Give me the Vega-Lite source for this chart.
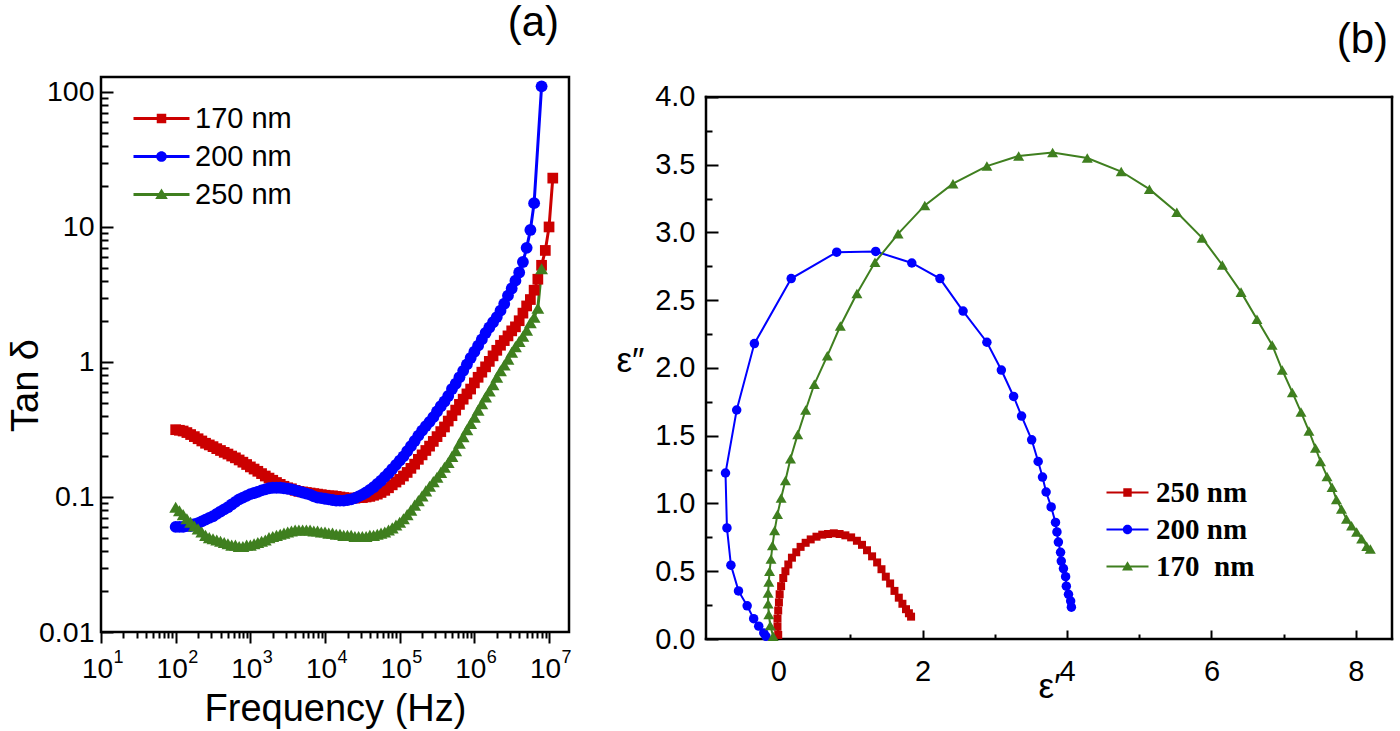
{
"$schema": "https://vega.github.io/schema/vega-lite/v6.json",
"background": "white",
"padding": {"left": 5, "top": 0, "right": 5, "bottom": 0},
"spacing": 43,
"resolve": {"scale": {"color": "independent", "shape": "independent"}, "legend": {"color": "independent", "shape": "independent"}},
"config": {
  "view": {"stroke": "black", "strokeWidth": 2.5},
  "axis": {"grid": false, "domain": false, "tickColor": "black", "tickWidth": 2, "labelColor": "black", "titleColor": "black", "labelFont": "Liberation Sans", "titleFont": "Liberation Sans", "titleFontWeight": "normal", "labelFlush": false, "labelOverlap": false, "labelBound": false},
  "title": {"font": "Liberation Sans", "fontWeight": "normal", "color": "black"}
},
"hconcat": [
{
  "width": 468, "height": 555,
  "title": {"text": "(a)", "anchor": "end", "frame": "group", "offset": 32, "dx": -10, "fontSize": 42},
  "data": {"values": [
{"s":"170 nm","f":100,"v":0.315},{"s":"170 nm","f":112.2,"v":0.312},{"s":"170 nm","f":125.9,"v":0.308},{"s":"170 nm","f":141.3,"v":0.3},{"s":"170 nm","f":158.5,"v":0.29},{"s":"170 nm","f":177.8,"v":0.28},{"s":"170 nm","f":199.5,"v":0.27},{"s":"170 nm","f":223.9,"v":0.26},{"s":"170 nm","f":251.2,"v":0.25},{"s":"170 nm","f":281.8,"v":0.243},{"s":"170 nm","f":316.2,"v":0.236},{"s":"170 nm","f":354.8,"v":0.228},{"s":"170 nm","f":398.1,"v":0.221},{"s":"170 nm","f":446.7,"v":0.214},{"s":"170 nm","f":501.2,"v":0.208},{"s":"170 nm","f":562.3,"v":0.201},{"s":"170 nm","f":631,"v":0.195},{"s":"170 nm","f":707.9,"v":0.188},{"s":"170 nm","f":794.3,"v":0.181},{"s":"170 nm","f":891.3,"v":0.174},
{"s":"170 nm","f":1000,"v":0.167},{"s":"170 nm","f":1122,"v":0.161},{"s":"170 nm","f":1259,"v":0.155},{"s":"170 nm","f":1413,"v":0.149},{"s":"170 nm","f":1585,"v":0.143},{"s":"170 nm","f":1778,"v":0.138},{"s":"170 nm","f":1995,"v":0.133},{"s":"170 nm","f":2239,"v":0.128},{"s":"170 nm","f":2512,"v":0.124},{"s":"170 nm","f":2818,"v":0.12},{"s":"170 nm","f":3162,"v":0.117},{"s":"170 nm","f":3548,"v":0.115},{"s":"170 nm","f":3981,"v":0.112},{"s":"170 nm","f":4467,"v":0.11},{"s":"170 nm","f":5012,"v":0.109},{"s":"170 nm","f":5623,"v":0.108},{"s":"170 nm","f":6310,"v":0.107},{"s":"170 nm","f":7079,"v":0.106},{"s":"170 nm","f":7943,"v":0.105},{"s":"170 nm","f":8913,"v":0.104},
{"s":"170 nm","f":10000,"v":0.103},{"s":"170 nm","f":11220,"v":0.102},{"s":"170 nm","f":12589,"v":0.102},{"s":"170 nm","f":14125,"v":0.101},{"s":"170 nm","f":15849,"v":0.1},{"s":"170 nm","f":17783,"v":0.099},{"s":"170 nm","f":19953,"v":0.098},{"s":"170 nm","f":22387,"v":0.098},{"s":"170 nm","f":25119,"v":0.098},{"s":"170 nm","f":28184,"v":0.099},{"s":"170 nm","f":31623,"v":0.099},{"s":"170 nm","f":35481,"v":0.1},{"s":"170 nm","f":39811,"v":0.101},{"s":"170 nm","f":44668,"v":0.103},{"s":"170 nm","f":50119,"v":0.105},{"s":"170 nm","f":56234,"v":0.108},{"s":"170 nm","f":63096,"v":0.112},{"s":"170 nm","f":70795,"v":0.117},{"s":"170 nm","f":79433,"v":0.123},{"s":"170 nm","f":89125,"v":0.129},
{"s":"170 nm","f":100000,"v":0.135},{"s":"170 nm","f":112202,"v":0.143},{"s":"170 nm","f":125893,"v":0.152},{"s":"170 nm","f":141254,"v":0.163},{"s":"170 nm","f":158489,"v":0.175},{"s":"170 nm","f":177828,"v":0.19},{"s":"170 nm","f":199526,"v":0.205},{"s":"170 nm","f":223872,"v":0.221},{"s":"170 nm","f":251189,"v":0.238},{"s":"170 nm","f":281838,"v":0.258},{"s":"170 nm","f":316228,"v":0.28},{"s":"170 nm","f":354813,"v":0.305},{"s":"170 nm","f":398107,"v":0.33},{"s":"170 nm","f":446684,"v":0.365},{"s":"170 nm","f":501187,"v":0.4},{"s":"170 nm","f":562341,"v":0.44},{"s":"170 nm","f":630957,"v":0.485},{"s":"170 nm","f":707946,"v":0.53},{"s":"170 nm","f":794328,"v":0.58},{"s":"170 nm","f":891251,"v":0.63},
{"s":"170 nm","f":1000000,"v":0.7},{"s":"170 nm","f":1122018,"v":0.77},{"s":"170 nm","f":1258925,"v":0.84},{"s":"170 nm","f":1412538,"v":0.92},{"s":"170 nm","f":1584893,"v":1.01},{"s":"170 nm","f":1778279,"v":1.11},{"s":"170 nm","f":1995262,"v":1.22},{"s":"170 nm","f":2238721,"v":1.33},{"s":"170 nm","f":2511886,"v":1.44},{"s":"170 nm","f":2818383,"v":1.56},{"s":"170 nm","f":3162278,"v":1.7},{"s":"170 nm","f":3548134,"v":1.82},{"s":"170 nm","f":3981072,"v":2.02},{"s":"170 nm","f":4466836,"v":2.3},{"s":"170 nm","f":5011872,"v":2.6},{"s":"170 nm","f":5623413,"v":2.9},{"s":"170 nm","f":6309573,"v":3.4},{"s":"170 nm","f":7079458,"v":4.1},{"s":"170 nm","f":7943282,"v":5.2},{"s":"170 nm","f":8912509,"v":6.7},{"s":"170 nm","f":10000000,"v":10},{"s":"170 nm","f":11220185,"v":23},
{"s":"200 nm","f":100,"v":0.06},{"s":"200 nm","f":112.2,"v":0.06},{"s":"200 nm","f":125.9,"v":0.06},{"s":"200 nm","f":141.3,"v":0.061},{"s":"200 nm","f":158.5,"v":0.061},{"s":"200 nm","f":177.8,"v":0.063},{"s":"200 nm","f":199.5,"v":0.064},{"s":"200 nm","f":223.9,"v":0.066},{"s":"200 nm","f":251.2,"v":0.068},{"s":"200 nm","f":281.8,"v":0.07},{"s":"200 nm","f":316.2,"v":0.072},{"s":"200 nm","f":354.8,"v":0.075},{"s":"200 nm","f":398.1,"v":0.078},{"s":"200 nm","f":446.7,"v":0.081},{"s":"200 nm","f":501.2,"v":0.084},{"s":"200 nm","f":562.3,"v":0.088},{"s":"200 nm","f":631,"v":0.092},{"s":"200 nm","f":707.9,"v":0.096},{"s":"200 nm","f":794.3,"v":0.099},{"s":"200 nm","f":891.3,"v":0.102},
{"s":"200 nm","f":1000,"v":0.105},{"s":"200 nm","f":1122,"v":0.107},{"s":"200 nm","f":1259,"v":0.109},{"s":"200 nm","f":1413,"v":0.112},{"s":"200 nm","f":1585,"v":0.114},{"s":"200 nm","f":1778,"v":0.116},{"s":"200 nm","f":1995,"v":0.117},{"s":"200 nm","f":2239,"v":0.117},{"s":"200 nm","f":2512,"v":0.117},{"s":"200 nm","f":2818,"v":0.116},{"s":"200 nm","f":3162,"v":0.115},{"s":"200 nm","f":3548,"v":0.114},{"s":"200 nm","f":3981,"v":0.112},{"s":"200 nm","f":4467,"v":0.11},{"s":"200 nm","f":5012,"v":0.108},{"s":"200 nm","f":5623,"v":0.106},{"s":"200 nm","f":6310,"v":0.104},{"s":"200 nm","f":7079,"v":0.101},{"s":"200 nm","f":7943,"v":0.099},{"s":"200 nm","f":8913,"v":0.098},
{"s":"200 nm","f":10000,"v":0.097},{"s":"200 nm","f":11220,"v":0.096},{"s":"200 nm","f":12589,"v":0.095},{"s":"200 nm","f":14125,"v":0.094},{"s":"200 nm","f":15849,"v":0.094},{"s":"200 nm","f":17783,"v":0.094},{"s":"200 nm","f":19953,"v":0.095},{"s":"200 nm","f":22387,"v":0.096},{"s":"200 nm","f":25119,"v":0.098},{"s":"200 nm","f":28184,"v":0.101},{"s":"200 nm","f":31623,"v":0.104},{"s":"200 nm","f":35481,"v":0.108},{"s":"200 nm","f":39811,"v":0.113},{"s":"200 nm","f":44668,"v":0.118},{"s":"200 nm","f":50119,"v":0.125},{"s":"200 nm","f":56234,"v":0.132},{"s":"200 nm","f":63096,"v":0.141},{"s":"200 nm","f":70795,"v":0.15},{"s":"200 nm","f":79433,"v":0.161},{"s":"200 nm","f":89125,"v":0.173},
{"s":"200 nm","f":100000,"v":0.186},{"s":"200 nm","f":112202,"v":0.2},{"s":"200 nm","f":125893,"v":0.218},{"s":"200 nm","f":141254,"v":0.238},{"s":"200 nm","f":158489,"v":0.26},{"s":"200 nm","f":177828,"v":0.285},{"s":"200 nm","f":199526,"v":0.31},{"s":"200 nm","f":223872,"v":0.335},{"s":"200 nm","f":251189,"v":0.36},{"s":"200 nm","f":281838,"v":0.39},{"s":"200 nm","f":316228,"v":0.43},{"s":"200 nm","f":354813,"v":0.47},{"s":"200 nm","f":398107,"v":0.51},{"s":"200 nm","f":446684,"v":0.56},{"s":"200 nm","f":501187,"v":0.63},{"s":"200 nm","f":562341,"v":0.69},{"s":"200 nm","f":630957,"v":0.77},{"s":"200 nm","f":707946,"v":0.86},{"s":"200 nm","f":794328,"v":0.96},{"s":"200 nm","f":891251,"v":1.07},
{"s":"200 nm","f":1000000,"v":1.19},{"s":"200 nm","f":1122018,"v":1.32},{"s":"200 nm","f":1258925,"v":1.47},{"s":"200 nm","f":1412538,"v":1.64},{"s":"200 nm","f":1584893,"v":1.8},{"s":"200 nm","f":1778279,"v":1.97},{"s":"200 nm","f":1995262,"v":2.15},{"s":"200 nm","f":2238721,"v":2.4},{"s":"200 nm","f":2511886,"v":2.7},{"s":"200 nm","f":2818383,"v":3.1},{"s":"200 nm","f":3162278,"v":3.5},{"s":"200 nm","f":3548134,"v":4},{"s":"200 nm","f":3981072,"v":4.6},{"s":"200 nm","f":4466836,"v":5.5},{"s":"200 nm","f":5011872,"v":7},{"s":"200 nm","f":5623413,"v":9.5},{"s":"200 nm","f":6309573,"v":15},{"s":"200 nm","f":7943282,"v":110},
{"s":"250 nm","f":100,"v":0.084},{"s":"250 nm","f":112.2,"v":0.079},{"s":"250 nm","f":125.9,"v":0.074},{"s":"250 nm","f":141.3,"v":0.069},{"s":"250 nm","f":158.5,"v":0.065},{"s":"250 nm","f":177.8,"v":0.061},{"s":"250 nm","f":199.5,"v":0.058},{"s":"250 nm","f":223.9,"v":0.055},{"s":"250 nm","f":251.2,"v":0.052},{"s":"250 nm","f":281.8,"v":0.05},{"s":"250 nm","f":316.2,"v":0.049},{"s":"250 nm","f":354.8,"v":0.048},{"s":"250 nm","f":398.1,"v":0.047},{"s":"250 nm","f":446.7,"v":0.046},{"s":"250 nm","f":501.2,"v":0.045},{"s":"250 nm","f":562.3,"v":0.044},{"s":"250 nm","f":631,"v":0.044},{"s":"250 nm","f":707.9,"v":0.043},{"s":"250 nm","f":794.3,"v":0.043},{"s":"250 nm","f":891.3,"v":0.044},
{"s":"250 nm","f":1000,"v":0.044},{"s":"250 nm","f":1122,"v":0.045},{"s":"250 nm","f":1259,"v":0.046},{"s":"250 nm","f":1413,"v":0.047},{"s":"250 nm","f":1585,"v":0.048},{"s":"250 nm","f":1778,"v":0.05},{"s":"250 nm","f":1995,"v":0.051},{"s":"250 nm","f":2239,"v":0.052},{"s":"250 nm","f":2512,"v":0.053},{"s":"250 nm","f":2818,"v":0.054},{"s":"250 nm","f":3162,"v":0.055},{"s":"250 nm","f":3548,"v":0.056},{"s":"250 nm","f":3981,"v":0.057},{"s":"250 nm","f":4467,"v":0.057},{"s":"250 nm","f":5012,"v":0.057},{"s":"250 nm","f":5623,"v":0.057},{"s":"250 nm","f":6310,"v":0.057},{"s":"250 nm","f":7079,"v":0.056},{"s":"250 nm","f":7943,"v":0.056},{"s":"250 nm","f":8913,"v":0.055},
{"s":"250 nm","f":10000,"v":0.055},{"s":"250 nm","f":11220,"v":0.054},{"s":"250 nm","f":12589,"v":0.054},{"s":"250 nm","f":14125,"v":0.053},{"s":"250 nm","f":15849,"v":0.053},{"s":"250 nm","f":17783,"v":0.052},{"s":"250 nm","f":19953,"v":0.052},{"s":"250 nm","f":22387,"v":0.052},{"s":"250 nm","f":25119,"v":0.051},{"s":"250 nm","f":28184,"v":0.051},{"s":"250 nm","f":31623,"v":0.051},{"s":"250 nm","f":35481,"v":0.051},{"s":"250 nm","f":39811,"v":0.052},{"s":"250 nm","f":44668,"v":0.052},{"s":"250 nm","f":50119,"v":0.053},{"s":"250 nm","f":56234,"v":0.054},{"s":"250 nm","f":63096,"v":0.055},{"s":"250 nm","f":70795,"v":0.057},{"s":"250 nm","f":79433,"v":0.059},{"s":"250 nm","f":89125,"v":0.062},
{"s":"250 nm","f":100000,"v":0.065},{"s":"250 nm","f":112202,"v":0.069},{"s":"250 nm","f":125893,"v":0.074},{"s":"250 nm","f":141254,"v":0.08},{"s":"250 nm","f":158489,"v":0.087},{"s":"250 nm","f":177828,"v":0.094},{"s":"250 nm","f":199526,"v":0.102},{"s":"250 nm","f":223872,"v":0.111},{"s":"250 nm","f":251189,"v":0.12},{"s":"250 nm","f":281838,"v":0.13},{"s":"250 nm","f":316228,"v":0.14},{"s":"250 nm","f":354813,"v":0.152},{"s":"250 nm","f":398107,"v":0.166},{"s":"250 nm","f":446684,"v":0.18},{"s":"250 nm","f":501187,"v":0.2},{"s":"250 nm","f":562341,"v":0.22},{"s":"250 nm","f":630957,"v":0.25},{"s":"250 nm","f":707946,"v":0.28},{"s":"250 nm","f":794328,"v":0.315},{"s":"250 nm","f":891251,"v":0.35},
{"s":"250 nm","f":1000000,"v":0.39},{"s":"250 nm","f":1122018,"v":0.44},{"s":"250 nm","f":1258925,"v":0.49},{"s":"250 nm","f":1412538,"v":0.55},{"s":"250 nm","f":1584893,"v":0.61},{"s":"250 nm","f":1778279,"v":0.68},{"s":"250 nm","f":1995262,"v":0.77},{"s":"250 nm","f":2238721,"v":0.86},{"s":"250 nm","f":2511886,"v":0.95},{"s":"250 nm","f":2818383,"v":1.05},{"s":"250 nm","f":3162278,"v":1.18},{"s":"250 nm","f":3548134,"v":1.3},{"s":"250 nm","f":3981072,"v":1.42},{"s":"250 nm","f":4466836,"v":1.55},{"s":"250 nm","f":5011872,"v":1.72},{"s":"250 nm","f":5623413,"v":1.95},{"s":"250 nm","f":6309573,"v":2.15},{"s":"250 nm","f":7079458,"v":2.5},{"s":"250 nm","f":7943282,"v":4.9}
  ]},
  "resolve": {"axis": {"x": "independent", "y": "independent"}},
  "layer": [
    {
      "mark": {"type": "point", "opacity": 0, "filled": true},
      "encoding": {
        "x": {"field": "f", "type": "quantitative", "scale": {"type": "log", "domain": [10, 18500000], "nice": false},
              "axis": {"orient": "bottom", "values": [10, 100, 1000, 10000, 100000, 1000000, 10000000], "labelExpr": "'' + round(log(datum.value) / LN10)", "ticks": false, "tickSize": 0, "labelFontSize": 18, "labelPadding": 16, "labelOffset": 17, "title": null}},
        "y": {"field": "v", "type": "quantitative", "scale": {"type": "log", "domain": [0.01, 129], "nice": false}, "axis": null},
        "color": {"field": "s", "type": "nominal", "scale": {"domain": ["170 nm", "200 nm", "250 nm"], "range": ["#cc0000", "#0000ff", "#3f7f1f"]},
                  "legend": {"orient": "none", "legendX": 46, "legendY": 27, "title": null, "labelFont": "Liberation Sans", "labelFontSize": 29, "labelColor": "black", "symbolSize": 784, "symbolOpacity": 1, "labelOffset": 19, "rowPadding": 8, "symbolStrokeWidth": 0}},
        "shape": {"field": "s", "type": "nominal", "scale": {"domain": ["170 nm", "200 nm", "250 nm"], "range": ["M-2,-0.11H2V0.11H-2Z M-0.34,-0.34H0.34V0.34H-0.34Z", "M-2,-0.11H2V0.11H-2Z M-0.38,0A0.38,0.38 0 1,1 0.38,0A0.38,0.38 0 1,1 -0.38,0Z", "M-2,-0.11H2V0.11H-2Z M0,-0.42L0.45,0.32H-0.45Z"]},
                  "legend": {"orient": "none", "legendX": 46, "legendY": 27, "title": null, "labelFont": "Liberation Sans", "labelFontSize": 29, "labelColor": "black", "symbolSize": 784, "symbolOpacity": 1, "labelOffset": 19, "rowPadding": 8, "symbolStrokeWidth": 0}}
      }
    },
    {
      "mark": {"type": "line", "strokeWidth": 3},
      "encoding": {
        "x": {"field": "f", "type": "quantitative", "scale": {"type": "log", "domain": [10, 18500000], "nice": false},
              "axis": {"orient": "bottom", "values": [10, 100, 1000, 10000, 100000, 1000000, 10000000], "labelExpr": "'10'", "tickSize": 11, "labelFontSize": 28, "labelPadding": 12, "labelOffset": -4, "title": "Frequency (Hz)", "titleFontSize": 38, "titleY": 88, "titleBaseline": "alphabetic"}},
        "y": {"field": "v", "type": "quantitative", "scale": {"type": "log", "domain": [0.01, 129], "nice": false},
              "axis": {"orient": "left", "values": [0.01, 0.1, 1, 10, 100], "format": "~g", "tickSize": -12, "labelFontSize": 28.5, "labelPadding": 19, "title": "Tan δ", "titleFontSize": 38, "titleX": -64, "titleY": 308, "titleBaseline": "alphabetic", "titleAlign": "center"}},
        "color": {"field": "s", "type": "nominal", "scale": {"domain": ["170 nm", "200 nm", "250 nm"], "range": ["#cc0000", "#0000ff", "#3f7f1f"]}}
      }
    },
    {
      "transform": [{"filter": "datum.s === '170 nm'"}],
      "mark": {"type": "point", "shape": "square", "filled": true, "opacity": 1, "strokeWidth": 0, "size": 115},
      "encoding": {
        "x": {"field": "f", "type": "quantitative", "scale": {"type": "log", "domain": [10, 18500000], "nice": false},
              "axis": {"orient": "bottom", "values": [20,30,40,50,60,70,80,90,200,300,400,500,600,700,800,900,2000,3000,4000,5000,6000,7000,8000,9000,20000,30000,40000,50000,60000,70000,80000,90000,200000,300000,400000,500000,600000,700000,800000,900000,2000000,3000000,4000000,5000000,6000000,7000000,8000000,9000000], "labels": false, "tickSize": 6, "title": null}},
        "y": {"field": "v", "type": "quantitative", "scale": {"type": "log", "domain": [0.01, 129], "nice": false},
              "axis": {"orient": "left", "values": [0.02,0.03,0.04,0.05,0.06,0.07,0.08,0.09,0.2,0.3,0.4,0.5,0.6,0.7,0.8,0.9,2,3,4,5,6,7,8,9,20,30,40,50,60,70,80,90], "labels": false, "tickSize": -7, "title": null}},
        "color": {"field": "s", "type": "nominal", "scale": {"domain": ["170 nm", "200 nm", "250 nm"], "range": ["#cc0000", "#0000ff", "#3f7f1f"]}}
      }
    },
    {
      "transform": [{"filter": "datum.s === '200 nm'"}],
      "mark": {"type": "point", "shape": "circle", "filled": true, "opacity": 1, "strokeWidth": 0, "size": 140},
      "encoding": {
        "x": {"field": "f", "type": "quantitative", "scale": {"type": "log", "domain": [10, 18500000], "nice": false}, "axis": null},
        "y": {"field": "v", "type": "quantitative", "scale": {"type": "log", "domain": [0.01, 129], "nice": false}, "axis": null},
        "color": {"field": "s", "type": "nominal", "scale": {"domain": ["170 nm", "200 nm", "250 nm"], "range": ["#cc0000", "#0000ff", "#3f7f1f"]}}
      }
    },
    {
      "transform": [{"filter": "datum.s === '250 nm'"}],
      "mark": {"type": "point", "shape": "triangle-up", "filled": true, "opacity": 1, "strokeWidth": 0, "size": 165},
      "encoding": {
        "x": {"field": "f", "type": "quantitative", "scale": {"type": "log", "domain": [10, 18500000], "nice": false}, "axis": null},
        "y": {"field": "v", "type": "quantitative", "scale": {"type": "log", "domain": [0.01, 129], "nice": false}, "axis": null},
        "color": {"field": "s", "type": "nominal", "scale": {"domain": ["170 nm", "200 nm", "250 nm"], "range": ["#cc0000", "#0000ff", "#3f7f1f"]}}
      }
    }
  ]
},
{
  "width": 686, "height": 562,
  "view": {"stroke": null},
  "title": {"text": "(b)", "anchor": "end", "frame": "group", "offset": 15, "dx": -4, "fontSize": 42},
  "data": {"values": [
{"s":"250 nm","i":0,"e1":0.0,"e2":0.03},{"s":"250 nm","i":1,"e1":-0.01,"e2":0.09},{"s":"250 nm","i":2,"e1":-0.01,"e2":0.15},{"s":"250 nm","i":3,"e1":0.0,"e2":0.21},{"s":"250 nm","i":4,"e1":0.01,"e2":0.27},{"s":"250 nm","i":5,"e1":0.02,"e2":0.33},{"s":"250 nm","i":6,"e1":0.04,"e2":0.39},{"s":"250 nm","i":7,"e1":0.07,"e2":0.45},{"s":"250 nm","i":8,"e1":0.1,"e2":0.5},{"s":"250 nm","i":9,"e1":0.14,"e2":0.55},{"s":"250 nm","i":10,"e1":0.19,"e2":0.6},{"s":"250 nm","i":11,"e1":0.25,"e2":0.64},{"s":"250 nm","i":12,"e1":0.31,"e2":0.68},{"s":"250 nm","i":13,"e1":0.38,"e2":0.71},{"s":"250 nm","i":14,"e1":0.45,"e2":0.735},{"s":"250 nm","i":15,"e1":0.53,"e2":0.755},{"s":"250 nm","i":16,"e1":0.61,"e2":0.77},{"s":"250 nm","i":17,"e1":0.69,"e2":0.775},{"s":"250 nm","i":18,"e1":0.77,"e2":0.78},{"s":"250 nm","i":19,"e1":0.85,"e2":0.775},{"s":"250 nm","i":20,"e1":0.93,"e2":0.765},{"s":"250 nm","i":21,"e1":1.01,"e2":0.75},{"s":"250 nm","i":22,"e1":1.09,"e2":0.725},{"s":"250 nm","i":23,"e1":1.16,"e2":0.695},{"s":"250 nm","i":24,"e1":1.23,"e2":0.655},{"s":"250 nm","i":25,"e1":1.3,"e2":0.61},{"s":"250 nm","i":26,"e1":1.37,"e2":0.565},{"s":"250 nm","i":27,"e1":1.43,"e2":0.515},{"s":"250 nm","i":28,"e1":1.49,"e2":0.46},{"s":"250 nm","i":29,"e1":1.55,"e2":0.41},{"s":"250 nm","i":30,"e1":1.61,"e2":0.355},{"s":"250 nm","i":31,"e1":1.67,"e2":0.305},{"s":"250 nm","i":32,"e1":1.72,"e2":0.26},{"s":"250 nm","i":33,"e1":1.77,"e2":0.22},{"s":"250 nm","i":34,"e1":1.81,"e2":0.19},{"s":"250 nm","i":35,"e1":1.84,"e2":0.165},
{"s":"200 nm","i":0,"e1":-0.17,"e2":0.02},{"s":"200 nm","i":1,"e1":-0.2,"e2":0.045},{"s":"200 nm","i":2,"e1":-0.27,"e2":0.095},{"s":"200 nm","i":3,"e1":-0.34,"e2":0.15},{"s":"200 nm","i":4,"e1":-0.43,"e2":0.245},{"s":"200 nm","i":5,"e1":-0.55,"e2":0.355},{"s":"200 nm","i":6,"e1":-0.655,"e2":0.545},{"s":"200 nm","i":7,"e1":-0.71,"e2":0.82},{"s":"200 nm","i":8,"e1":-0.73,"e2":1.225},{"s":"200 nm","i":9,"e1":-0.575,"e2":1.69},{"s":"200 nm","i":10,"e1":-0.33,"e2":2.18},{"s":"200 nm","i":11,"e1":0.18,"e2":2.66},{"s":"200 nm","i":12,"e1":0.81,"e2":2.855},{"s":"200 nm","i":13,"e1":1.35,"e2":2.86},{"s":"200 nm","i":14,"e1":1.85,"e2":2.775},{"s":"200 nm","i":15,"e1":2.24,"e2":2.66},{"s":"200 nm","i":16,"e1":2.56,"e2":2.42},{"s":"200 nm","i":17,"e1":2.89,"e2":2.19},{"s":"200 nm","i":18,"e1":3.09,"e2":1.985},{"s":"200 nm","i":19,"e1":3.26,"e2":1.79},{"s":"200 nm","i":20,"e1":3.37,"e2":1.645},{"s":"200 nm","i":21,"e1":3.51,"e2":1.47},{"s":"200 nm","i":22,"e1":3.6,"e2":1.31},{"s":"200 nm","i":23,"e1":3.66,"e2":1.195},{"s":"200 nm","i":24,"e1":3.71,"e2":1.085},{"s":"200 nm","i":25,"e1":3.78,"e2":0.975},{"s":"200 nm","i":26,"e1":3.84,"e2":0.86},{"s":"200 nm","i":27,"e1":3.86,"e2":0.79},{"s":"200 nm","i":28,"e1":3.88,"e2":0.715},{"s":"200 nm","i":29,"e1":3.91,"e2":0.64},{"s":"200 nm","i":30,"e1":3.92,"e2":0.575},{"s":"200 nm","i":31,"e1":3.95,"e2":0.52},{"s":"200 nm","i":32,"e1":3.98,"e2":0.46},{"s":"200 nm","i":33,"e1":3.99,"e2":0.39},{"s":"200 nm","i":34,"e1":4.02,"e2":0.33},{"s":"200 nm","i":35,"e1":4.05,"e2":0.28},{"s":"200 nm","i":36,"e1":4.06,"e2":0.235},
{"s":"170  nm","i":0,"e1":-0.07,"e2":0.02},{"s":"170  nm","i":1,"e1":-0.11,"e2":0.1},{"s":"170  nm","i":2,"e1":-0.13,"e2":0.18},{"s":"170  nm","i":3,"e1":-0.14,"e2":0.26},{"s":"170  nm","i":4,"e1":-0.14,"e2":0.34},{"s":"170  nm","i":5,"e1":-0.13,"e2":0.42},{"s":"170  nm","i":6,"e1":-0.12,"e2":0.5},{"s":"170  nm","i":7,"e1":-0.1,"e2":0.59},{"s":"170  nm","i":8,"e1":-0.08,"e2":0.69},{"s":"170  nm","i":9,"e1":-0.05,"e2":0.8},{"s":"170  nm","i":10,"e1":-0.01,"e2":0.92},{"s":"170  nm","i":11,"e1":0.04,"e2":1.04},{"s":"170  nm","i":12,"e1":0.1,"e2":1.17},{"s":"170  nm","i":13,"e1":0.17,"e2":1.33},{"s":"170  nm","i":14,"e1":0.27,"e2":1.51},{"s":"170  nm","i":15,"e1":0.38,"e2":1.69},{"s":"170  nm","i":16,"e1":0.5,"e2":1.88},{"s":"170  nm","i":17,"e1":0.68,"e2":2.09},{"s":"170  nm","i":18,"e1":0.86,"e2":2.31},{"s":"170  nm","i":19,"e1":1.09,"e2":2.55},{"s":"170  nm","i":20,"e1":1.34,"e2":2.78},{"s":"170  nm","i":21,"e1":1.66,"e2":2.99},{"s":"170  nm","i":22,"e1":2.03,"e2":3.2},{"s":"170  nm","i":23,"e1":2.42,"e2":3.36},{"s":"170  nm","i":24,"e1":2.89,"e2":3.49},{"s":"170  nm","i":25,"e1":3.33,"e2":3.565},{"s":"170  nm","i":26,"e1":3.8,"e2":3.59},{"s":"170  nm","i":27,"e1":4.28,"e2":3.55},{"s":"170  nm","i":28,"e1":4.75,"e2":3.45},{"s":"170  nm","i":29,"e1":5.14,"e2":3.32},{"s":"170  nm","i":30,"e1":5.52,"e2":3.15},{"s":"170  nm","i":31,"e1":5.87,"e2":2.96},{"s":"170  nm","i":32,"e1":6.15,"e2":2.76},{"s":"170  nm","i":33,"e1":6.41,"e2":2.56},{"s":"170  nm","i":34,"e1":6.63,"e2":2.36},{"s":"170  nm","i":35,"e1":6.84,"e2":2.17},{"s":"170  nm","i":36,"e1":6.98,"e2":1.985},{"s":"170  nm","i":37,"e1":7.12,"e2":1.82},{"s":"170  nm","i":38,"e1":7.24,"e2":1.675},{"s":"170  nm","i":39,"e1":7.35,"e2":1.535},{"s":"170  nm","i":40,"e1":7.44,"e2":1.41},{"s":"170  nm","i":41,"e1":7.51,"e2":1.31},{"s":"170  nm","i":42,"e1":7.6,"e2":1.2},{"s":"170  nm","i":43,"e1":7.67,"e2":1.12},{"s":"170  nm","i":44,"e1":7.73,"e2":1.03},{"s":"170  nm","i":45,"e1":7.8,"e2":0.96},{"s":"170  nm","i":46,"e1":7.87,"e2":0.885},{"s":"170  nm","i":47,"e1":7.94,"e2":0.835},{"s":"170  nm","i":48,"e1":8.01,"e2":0.79},{"s":"170  nm","i":49,"e1":8.08,"e2":0.74},{"s":"170  nm","i":50,"e1":8.15,"e2":0.685},{"s":"170  nm","i":51,"e1":8.2,"e2":0.665}
  ]},
  "resolve": {"axis": {"x": "independent", "y": "independent"}},
  "layer": [
    {
      "mark": {"type": "point", "opacity": 0, "filled": true},
      "encoding": {
        "x": {"field": "e1", "type": "quantitative", "scale": {"domain": [-1, 8.5], "nice": false, "zero": false}, "axis": null},
        "y": {"field": "e2", "type": "quantitative", "scale": {"domain": [0, 4.1476], "nice": false}, "axis": null},
        "color": {"field": "s", "type": "nominal", "scale": {"domain": ["250 nm", "200 nm", "170  nm"], "range": ["#c00000", "#0000ff", "#3f7f1f"]},
                  "legend": {"orient": "none", "legendX": 407, "legendY": 401, "title": null, "labelFont": "Liberation Serif", "labelFontWeight": "bold", "labelFontSize": 29, "labelColor": "black", "symbolSize": 441, "symbolOpacity": 1, "labelOffset": 14, "rowPadding": 7, "symbolStrokeWidth": 0, "labelExpr": "datum.label == '170  nm' ? '170\u00a0\u00a0nm' : datum.label"}},
        "shape": {"field": "s", "type": "nominal", "scale": {"domain": ["250 nm", "200 nm", "170  nm"], "range": ["M-2,-0.1H2V0.1H-2Z M-0.4,-0.4H0.4V0.4H-0.4Z", "M-2,-0.1H2V0.1H-2Z M-0.45,0A0.45,0.45 0 1,1 0.45,0A0.45,0.45 0 1,1 -0.45,0Z", "M-2,-0.1H2V0.1H-2Z M0,-0.5L0.52,0.38H-0.52Z"]},
                  "legend": {"orient": "none", "legendX": 407, "legendY": 401, "title": null, "labelFont": "Liberation Serif", "labelFontWeight": "bold", "labelFontSize": 29, "labelColor": "black", "symbolSize": 441, "symbolOpacity": 1, "labelOffset": 14, "rowPadding": 7, "symbolStrokeWidth": 0, "labelExpr": "datum.label == '170  nm' ? '170\u00a0\u00a0nm' : datum.label"}}
      }
    },
    {
      "data": {"values": [{}]},
      "mark": {"type": "rule", "color": "black", "strokeWidth": 2.5, "strokeCap": "square"},
      "encoding": {
        "x": {"datum": -1, "type": "quantitative", "scale": {"domain": [-1, 8.5], "nice": false, "zero": false}, "axis": null},
        "x2": {"datum": 8.5},
        "y": {"datum": 4, "type": "quantitative", "scale": {"domain": [0, 4.1476], "nice": false}, "axis": null}
      }
    },
    {
      "data": {"values": [{}]},
      "mark": {"type": "rule", "color": "black", "strokeWidth": 2.5, "strokeCap": "square"},
      "encoding": {
        "x": {"datum": -1, "type": "quantitative", "scale": {"domain": [-1, 8.5], "nice": false, "zero": false}, "axis": null},
        "x2": {"datum": 8.5},
        "y": {"datum": 0, "type": "quantitative", "scale": {"domain": [0, 4.1476], "nice": false}, "axis": null}
      }
    },
    {
      "data": {"values": [{}]},
      "mark": {"type": "rule", "color": "black", "strokeWidth": 2.5, "strokeCap": "square"},
      "encoding": {
        "x": {"datum": -1, "type": "quantitative", "scale": {"domain": [-1, 8.5], "nice": false, "zero": false}, "axis": null},
        "y": {"datum": 0, "type": "quantitative", "scale": {"domain": [0, 4.1476], "nice": false}, "axis": null},
        "y2": {"datum": 4}
      }
    },
    {
      "data": {"values": [{}]},
      "mark": {"type": "rule", "color": "black", "strokeWidth": 2.5, "strokeCap": "square"},
      "encoding": {
        "x": {"datum": 8.5, "type": "quantitative", "scale": {"domain": [-1, 8.5], "nice": false, "zero": false}, "axis": null},
        "y": {"datum": 0, "type": "quantitative", "scale": {"domain": [0, 4.1476], "nice": false}, "axis": null},
        "y2": {"datum": 4}
      }
    },
    {
      "mark": {"type": "line", "strokeWidth": 2},
      "encoding": {
        "x": {"field": "e1", "type": "quantitative", "scale": {"domain": [-1, 8.5], "nice": false, "zero": false},
              "axis": {"orient": "bottom", "values": [0, 2, 4, 6, 8], "format": "d", "tickSize": -9, "labelFontSize": 29, "labelPadding": 27, "title": "ε′", "titleFontSize": 35, "titleY": 58, "titleBaseline": "alphabetic"}},
        "y": {"field": "e2", "type": "quantitative", "scale": {"domain": [0, 4.1476], "nice": false},
              "axis": {"orient": "left", "values": [0, 0.5, 1, 1.5, 2, 2.5, 3, 3.5, 4], "format": ".1f", "tickSize": -12, "labelFontSize": 29, "labelPadding": 23, "title": "ε″", "titleFontSize": 35, "titleAngle": 0, "titleAlign": "left", "titleBaseline": "alphabetic", "titleX": -90, "titleY": 294}},
        "color": {"field": "s", "type": "nominal", "scale": {"domain": ["250 nm", "200 nm", "170  nm"], "range": ["#c00000", "#0000ff", "#3f7f1f"]}},
        "order": {"field": "i", "type": "quantitative"}
      }
    },
    {
      "transform": [{"filter": "datum.s === '250 nm'"}],
      "mark": {"type": "point", "shape": "square", "filled": true, "opacity": 1, "strokeWidth": 0, "size": 64},
      "encoding": {
        "x": {"field": "e1", "type": "quantitative", "scale": {"domain": [-1, 8.5], "nice": false, "zero": false},
              "axis": {"orient": "bottom", "values": [1, 3, 5, 7], "labels": false, "tickSize": -5, "title": null}},
        "y": {"field": "e2", "type": "quantitative", "scale": {"domain": [0, 4.1476], "nice": false},
              "axis": {"orient": "left", "values": [0.25, 0.75, 1.25, 1.75, 2.25, 2.75, 3.25, 3.75], "labels": false, "tickSize": -6, "title": null}},
        "color": {"field": "s", "type": "nominal", "scale": {"domain": ["250 nm", "200 nm", "170  nm"], "range": ["#c00000", "#0000ff", "#3f7f1f"]}}
      }
    },
    {
      "transform": [{"filter": "datum.s === '200 nm'"}],
      "mark": {"type": "point", "shape": "circle", "filled": true, "opacity": 1, "strokeWidth": 0, "size": 90},
      "encoding": {
        "x": {"field": "e1", "type": "quantitative", "scale": {"domain": [-1, 8.5], "nice": false, "zero": false}, "axis": null},
        "y": {"field": "e2", "type": "quantitative", "scale": {"domain": [0, 4.1476], "nice": false}, "axis": null},
        "color": {"field": "s", "type": "nominal", "scale": {"domain": ["250 nm", "200 nm", "170  nm"], "range": ["#c00000", "#0000ff", "#3f7f1f"]}}
      }
    },
    {
      "transform": [{"filter": "datum.s === '170  nm'"}],
      "mark": {"type": "point", "shape": "triangle-up", "filled": true, "opacity": 1, "strokeWidth": 0, "size": 121},
      "encoding": {
        "x": {"field": "e1", "type": "quantitative", "scale": {"domain": [-1, 8.5], "nice": false, "zero": false}, "axis": null},
        "y": {"field": "e2", "type": "quantitative", "scale": {"domain": [0, 4.1476], "nice": false}, "axis": null},
        "color": {"field": "s", "type": "nominal", "scale": {"domain": ["250 nm", "200 nm", "170  nm"], "range": ["#c00000", "#0000ff", "#3f7f1f"]}}
      }
    }
  ]
}
]
}
